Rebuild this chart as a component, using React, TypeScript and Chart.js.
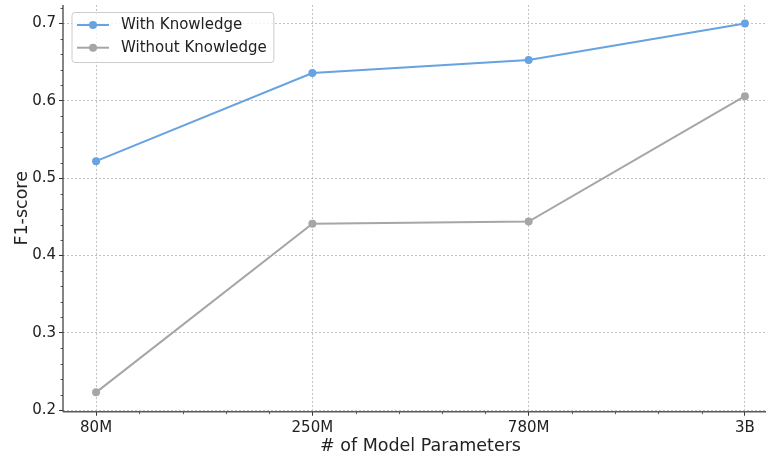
import React, { useEffect, useRef } from 'react';
import { Chart, registerables } from 'chart.js';

Chart.register(...registerables);

const categories = ['80M', '250M', '780M', '3B'];
const withKnowledge = [0.522, 0.636, 0.653, 0.7];
const withoutKnowledge = [0.223, 0.441, 0.444, 0.606];
const yTickValues = [0.2, 0.3, 0.4, 0.5, 0.6, 0.7];
const seriesLabels = ['With Knowledge', 'Without Knowledge'];
const seriesColors = ['#66a3e0', '#a6a6a6'];

const FONT = "'DejaVu Sans', sans-serif";
const TEXT = '#222222';
const TICK_SIZE = 15;
const TITLE_SIZE = 17.5;

// Minor ticks, spines and a matplotlib-style legend box.
const decorPlugin = {
  id: 'axesDecor',
  afterDraw(chart: any) {
    const { ctx, chartArea: a, scales } = chart;
    const x = scales.x;
    const y = scales.y;
    ctx.save();

    // minor ticks
    ctx.strokeStyle = '#333333';
    ctx.lineWidth = 0.8;
    ctx.beginPath();
    for (let k = 0; ; k++) {
      const v = 0.2 + k * 0.02;
      if (v > y.max + 1e-9) break;
      if (k % 5 === 0) continue;
      const py = Math.round(y.getPixelForValue(v)) + 0.5;
      ctx.moveTo(a.left - 2.5, py);
      ctx.lineTo(a.left, py);
    }
    for (let k = 1; ; k++) {
      const v = k * 0.2;
      if (v > x.max + 1e-9) break;
      if (k % 5 === 0) continue;
      const px = Math.round(x.getPixelForValue(v)) + 0.5;
      ctx.moveTo(px, a.bottom);
      ctx.lineTo(px, a.bottom + 2.5);
    }
    ctx.stroke();

    // spines
    ctx.lineWidth = 1.2;
    ctx.strokeStyle = '#333333';
    ctx.beginPath();
    ctx.moveTo(a.left, a.top);
    ctx.lineTo(a.left, a.bottom);
    ctx.stroke();
    ctx.lineWidth = 1.6;
    ctx.strokeStyle = '#5a5a5a';
    ctx.beginPath();
    ctx.moveTo(a.left, a.bottom);
    ctx.lineTo(a.right, a.bottom);
    ctx.stroke();

    // legend
    ctx.font = `${TICK_SIZE}px ${FONT}`;
    const datasets = chart.data.datasets;
    const maxW = Math.max(...datasets.map((d: any) => ctx.measureText(d.label).width));
    const bx = a.left + 9;
    const by = a.top + 7.5;
    const bw = 49 + maxW + 7;
    const bh = 50;
    ctx.beginPath();
    ctx.roundRect(bx, by, bw, bh, 3);
    ctx.fillStyle = 'rgba(255,255,255,0.8)';
    ctx.fill();
    ctx.lineWidth = 1;
    ctx.strokeStyle = '#cccccc';
    ctx.stroke();
    datasets.forEach((d: any, i: number) => {
      const cy = by + 12.5 + i * 22.7;
      ctx.strokeStyle = d.borderColor;
      ctx.lineWidth = 2;
      ctx.beginPath();
      ctx.moveTo(bx + 5, cy);
      ctx.lineTo(bx + 37, cy);
      ctx.stroke();
      ctx.fillStyle = d.borderColor;
      ctx.beginPath();
      ctx.arc(bx + 21, cy, 4, 0, Math.PI * 2);
      ctx.fill();
      ctx.fillStyle = TEXT;
      ctx.textBaseline = 'middle';
      ctx.textAlign = 'left';
      ctx.fillText(d.label, bx + 49, cy);
    });
    ctx.restore();
  },
};

export default function App() {
  const canvasRef = useRef<HTMLCanvasElement | null>(null);

  useEffect(() => {
    document.body.style.margin = '0';
    const canvas = canvasRef.current;
    if (!canvas) return;

    const makeSeries = (values: number[], i: number) => ({
      label: seriesLabels[i],
      data: values.map((v, j) => ({ x: j, y: v })),
      borderColor: seriesColors[i],
      backgroundColor: seriesColors[i],
      pointBackgroundColor: seriesColors[i],
      pointBorderWidth: 0,
      pointRadius: 4,
      borderWidth: 2,
      tension: 0,
      fill: false,
    });

    const chart = new Chart(canvas, {
      type: 'line',
      data: {
        datasets: [makeSeries(withKnowledge, 0), makeSeries(withoutKnowledge, 1)],
      },
      options: {
        animation: false,
        responsive: false,
        devicePixelRatio: 1,
        layout: { autoPadding: false, padding: { top: 5, left: 0, right: 0, bottom: 0 } },
        plugins: {
          legend: { display: false },
          tooltip: { enabled: false },
        },
        scales: {
          x: {
            type: 'linear',
            min: -0.153,
            max: 3.153,
            afterBuildTicks: (s: any) => {
              s.ticks = categories.map((_, i) => ({ value: i }));
            },
            afterFit: (s: any) => {
              s.height = 45.3;
              s.paddingLeft = 0;
              s.paddingRight = 0;
            },
            ticks: {
              autoSkip: false,
              maxRotation: 0,
              padding: 3,
              color: TEXT,
              font: { family: FONT, size: TICK_SIZE },
              callback: (v: any) => categories[v] ?? '',
            },
            grid: {
              color: '#b3b3b3',
              lineWidth: 0.8,
              tickColor: '#333333',
              tickLength: 4,
              tickWidth: 1,
            },
            border: { display: false, dash: [2, 2] },
            title: {
              display: true,
              text: '# of Model Parameters',
              color: TEXT,
              font: { family: FONT, size: TITLE_SIZE },
              padding: { top: 0.5, bottom: 0.5 },
            },
          },
          y: {
            type: 'linear',
            min: 0.198,
            max: 0.724,
            afterBuildTicks: (s: any) => {
              s.ticks = yTickValues.map((v) => ({ value: v }));
            },
            afterFit: (s: any) => {
              s.width = 63;
              s.paddingTop = 0;
              s.paddingBottom = 0;
            },
            ticks: {
              padding: 3,
              color: TEXT,
              font: { family: FONT, size: TICK_SIZE },
              callback: (v: any) => Number(v).toFixed(1),
            },
            grid: {
              color: '#b3b3b3',
              lineWidth: 0.8,
              tickColor: '#333333',
              tickLength: 4,
              tickWidth: 1,
            },
            border: { display: false, dash: [2, 2] },
            title: {
              display: true,
              text: 'F1-score',
              color: TEXT,
              font: { family: FONT, size: TITLE_SIZE },
              padding: { top: 11.5, bottom: 11.5 },
            },
          },
        },
      },
      plugins: [decorPlugin],
    } as any);

    return () => chart.destroy();
  }, []);

  // The figure is wider than the visible frame; its right edge is cut off.
  return (
    <div style={{ width: 766, height: 457, overflow: 'hidden' }}>
      <canvas ref={canvasRef} width={778} height={457} style={{ display: 'block' }} />
    </div>
  );
}
